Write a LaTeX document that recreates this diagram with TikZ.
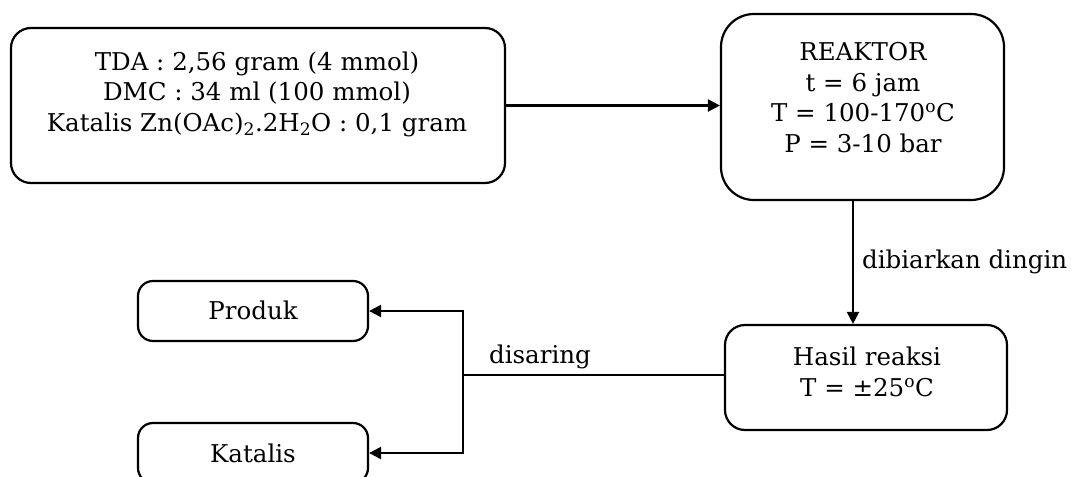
\documentclass[tikz,border=0pt]{standalone}
\usepackage{fontspec}
\setmainfont{DejaVu Serif}
\usetikzlibrary{arrows.meta}
\newcommand{\fs}{\fontsize{24.5}{30.5}\selectfont}
\begin{document}
\begin{tikzpicture}[x=1pt,y=-1pt,
  box/.style={draw, line width=2.2pt, rounded corners=20pt, inner sep=0pt},
  txt/.style={align=center, font=\fs, inner sep=0pt},
  conn/.style={line width=2.2pt},
  arr/.style={conn,-{Triangle[length=12pt,width=12pt]}},
  lbl/.style={font=\fs, inner sep=0pt}]
\useasboundingbox (0,0) rectangle (1080,477);
% boxes
\node[box, minimum width=494pt, minimum height=155pt] (b1) at (258,105.5) {};
\node[txt] (b1t) at (257,94) {TDA : 2,56 gram (4 mmol)\\DMC : 34 ml (100 mmol)\\Katalis Zn(OAc)\textsubscript{2}.2H\textsubscript{2}O : 0,1 gram};
\node[box, rounded corners=33pt, minimum width=283pt, minimum height=186pt] (r) at (862.5,107) {};
\node[txt] (rt) at (863,97.5) {REAKTOR\\t = 6 jam\\T = 100-170\textsuperscript{o}C\\P = 3-10 bar};
\node[box, minimum width=282pt, minimum height=105pt] (h) at (866,377.5) {};
\node[txt] (ht) at (867,372) {Hasil reaksi\\T = ±25\textsuperscript{o}C};
\node[box, rounded corners=15pt, minimum width=230pt, minimum height=60pt] (p) at (253,311) {};
\node[txt] (pt) at (253,310) {Produk};
\node[box, rounded corners=15pt, minimum width=230pt, minimum height=60pt] (k) at (253,453) {};
\node[txt] (kt) at (253,453) {Katalis};
% connectors
\draw[arr] (b1.east) -- (b1.east -| r.west);
\coordinate (vx) at (853,0);
\draw[arr] (r.south -| vx) -- (h.north -| vx);
\node[lbl, anchor=west] (l1) at (862,262) {dibiarkan dingin};
\coordinate (j) at (463,375);
\draw[conn] (h.west |- j) -- (j);
\draw[arr] (j) |- (p.east);
\draw[arr] (j) |- (k.east);
\node[lbl] (l2) at (540,357) {disaring};
\end{tikzpicture}
\end{document}
